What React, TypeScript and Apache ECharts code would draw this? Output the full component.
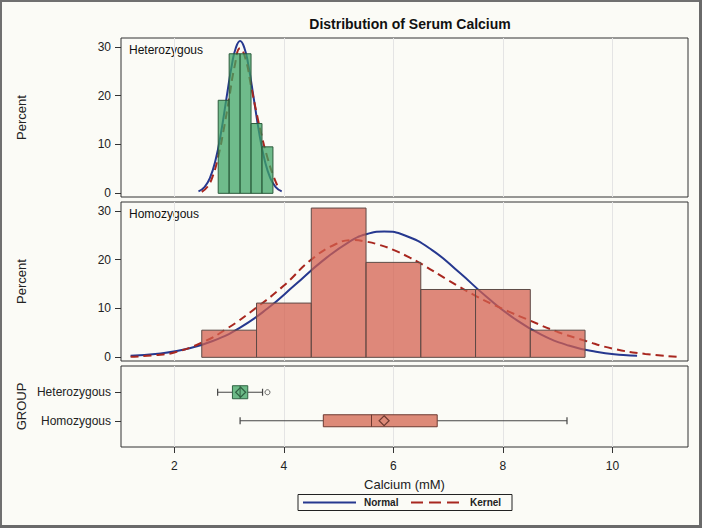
import React, { useEffect, useRef } from 'react';
import * as echarts from 'echarts';

const chartTitle = 'Distribution of Serum Calcium';
const xAxisName = 'Calcium (mM)';
const groups = ['Homozygous', 'Heterozygous'];
const xTicks = [2, 4, 6, 8, 10];
const yTicks = [0, 10, 20, 30];
const groupTicks = [0, 1];

// Heterozygous histogram (percent)
const hetBinStart = [2.8, 3.0, 3.2, 3.4, 3.6];
const hetBinEnd = [3.0, 3.2, 3.4, 3.6, 3.8];
const hetPct = [19.05, 28.57, 28.57, 14.29, 9.52];

// Homozygous histogram (percent)
const homBinStart = [2.5, 3.5, 4.5, 5.5, 6.5, 7.5, 8.5];
const homBinEnd = [3.5, 4.5, 5.5, 6.5, 7.5, 8.5, 9.5];
const homPct = [5.56, 11.11, 30.56, 19.44, 13.89, 13.89, 5.56];

// Heterozygous curves
const hetNormalX = [2.44, 2.55, 2.65, 2.75, 2.85, 2.95, 3.05, 3.12, 3.2, 3.28, 3.35, 3.45, 3.55, 3.65, 3.75, 3.85, 3.96];
const hetNormalY = [0.39, 1.27, 3.16, 6.74, 12.3, 19.4, 26.3, 29.7, 31.2, 29.7, 26.3, 19.4, 12.3, 6.74, 3.16, 1.27, 0.39];
const hetKernelX = [2.5, 2.6, 2.7, 2.8, 2.9, 3.0, 3.1, 3.2, 3.3, 3.4, 3.5, 3.6, 3.7, 3.8, 3.92];
const hetKernelY = [0.3, 1.3, 3.5, 7.5, 13.0, 19.5, 26.0, 29.7, 27.5, 22.0, 16.5, 11.5, 7.3, 3.8, 0.6];

// Homozygous curves
const homNormalX = [1.2, 1.7, 2.2, 2.7, 3.2, 3.7, 4.2, 4.7, 5.2, 5.5, 5.83, 6.2, 6.7, 7.2, 7.7, 8.2, 8.7, 9.2, 9.7, 10.2, 10.45];
const homNormalY = [0.3, 0.74, 1.66, 3.35, 6.1, 10.0, 14.8, 19.7, 23.7, 25.2, 25.74, 25.0, 22.0, 17.4, 12.4, 8.0, 4.64, 2.42, 1.14, 0.48, 0.3];
const homKernelX = [1.2, 1.7, 2.0, 2.5, 2.95, 3.5, 4.0, 4.5, 4.95, 5.26, 5.5, 5.75, 6.0, 6.3, 6.5, 7.0, 7.5, 8.0, 8.5, 9.0, 9.5, 10.0, 10.6, 11.2];
const homKernelY = [0.1, 0.5, 1.0, 3.0, 5.8, 10.2, 14.7, 20.0, 23.2, 24.0, 23.7, 23.0, 22.0, 20.4, 19.2, 15.8, 12.6, 9.9, 7.5, 5.2, 3.4, 1.8, 0.7, 0.1];

// Box plot stats per group
const boxGroup = [1, 0];
const boxLow = [2.79, 3.2];
const boxQ1 = [3.06, 4.72];
const boxMedian = [3.2, 5.6];
const boxQ3 = [3.34, 6.8];
const boxHigh = [3.61, 9.17];
const boxMean = [3.21, 5.83];
const outlierGroup = [1];
const outlierValue = [3.7];

const FONT = '"Liberation Sans", Arial, sans-serif';
const BG = '#fbfbf6';
const BLUE = '#26388f';
const RED = '#a8271f';

function pairs(xs: number[], ys: number[]) {
  return xs.map((x, i) => [x, ys[i]]);
}

export default function App() {
  const ref = useRef<HTMLDivElement>(null);
  useEffect(() => {
    if (!ref.current) return;
    const chart = echarts.init(ref.current, undefined, { renderer: 'svg' });

    const histRender = (fill: string, stroke: string) => (params: any, api: any) => {
      const a = api.coord([api.value(0), 0]);
      const b = api.coord([api.value(1), api.value(2)]);
      return {
        type: 'rect',
        shape: { x: a[0], y: b[1], width: b[0] - a[0], height: a[1] - b[1] },
        style: { fill, stroke, lineWidth: 1 },
      };
    };

    const xCommon = (gridIndex: number, showLabels: boolean) => ({
      type: 'value',
      gridIndex,
      min: 1.025,
      max: 11.38,
      name: showLabels ? xAxisName : '',
      nameLocation: 'middle',
      nameGap: 31,
      nameMoveOverlap: false,
      nameTextStyle: { fontSize: 13, color: '#222', fontFamily: FONT },
      axisLine: { show: false, onZero: false },
      axisTick: { show: showLabels, length: 6, customValues: xTicks, lineStyle: { color: '#333' } },
      axisLabel: { show: showLabels, customValues: xTicks, fontSize: 12, color: '#222', margin: 13, fontFamily: FONT },
      splitLine: { show: true, lineStyle: { color: '#e4e4e4', width: 1 } },
    });

    const yPct = (gridIndex: number) => ({
      type: 'value',
      gridIndex,
      min: -0.75,
      max: 31.8,
      name: 'Percent',
      nameLocation: 'middle',
      nameGap: 93,
      nameMoveOverlap: false,
      nameTextStyle: { fontSize: 13, color: '#222', fontFamily: FONT },
      axisLine: { show: false, onZero: false },
      axisTick: { show: true, length: 6, customValues: yTicks, lineStyle: { color: '#333' } },
      axisLabel: { customValues: yTicks, fontSize: 12, color: '#222', margin: 10, fontFamily: FONT },
      splitLine: { show: false },
    });

    const option: any = {
      animation: false,
      backgroundColor: BG,
      textStyle: { fontFamily: FONT },
      title: {
        text: chartTitle,
        left: 405,
        top: 12,
        textAlign: 'center',
        textStyle: { fontSize: 14, fontWeight: 'bold', color: '#111', fontFamily: FONT },
      },
      grid: [
        { left: 121, right: 14, top: 38, height: 159, show: true, borderColor: '#333', borderWidth: 1, backgroundColor: 'transparent' },
        { left: 121, right: 14, top: 202, height: 159, show: true, borderColor: '#333', borderWidth: 1, backgroundColor: 'transparent' },
        { left: 121, right: 14, top: 366, height: 81, show: true, borderColor: '#333', borderWidth: 1, backgroundColor: 'transparent' },
      ],
      xAxis: [xCommon(0, false), xCommon(1, false), xCommon(2, true)],
      yAxis: [
        yPct(0),
        yPct(1),
        {
          type: 'value',
          gridIndex: 2,
          min: -0.92,
          max: 1.92,
          name: 'GROUP',
          nameLocation: 'middle',
          nameGap: 93,
          nameMoveOverlap: false,
          nameTextStyle: { fontSize: 13, color: '#222', fontFamily: FONT },
          axisLine: { show: false, onZero: false },
          axisTick: { show: true, length: 6, customValues: groupTicks, lineStyle: { color: '#333' } },
          axisLabel: {
            customValues: groupTicks,
            fontSize: 12,
            color: '#222',
            margin: 10,
            fontFamily: FONT,
            formatter: (v: number) => groups[Math.round(v)] ?? '',
          },
          splitLine: { show: false },
        },
      ],
      series: [
        {
          type: 'line', xAxisIndex: 0, yAxisIndex: 0, data: pairs(hetNormalX, hetNormalY),
          smooth: true, showSymbol: false, z: 2,
          lineStyle: { color: BLUE, width: 2 },
        },
        {
          type: 'line', xAxisIndex: 0, yAxisIndex: 0, data: pairs(hetKernelX, hetKernelY),
          smooth: true, showSymbol: false, z: 2,
          lineStyle: { color: RED, width: 2, type: [8, 5] },
        },
        {
          type: 'custom', xAxisIndex: 0, yAxisIndex: 0, z: 3,
          data: hetBinStart.map((s, i) => [s, hetBinEnd[i], hetPct[i]]),
          encode: { x: [0, 1], y: 2 },
          renderItem: histRender('rgba(62,164,101,0.74)', '#2c5a3c'),
        },
        {
          type: 'line', xAxisIndex: 1, yAxisIndex: 1, data: pairs(homNormalX, homNormalY),
          smooth: true, showSymbol: false, z: 2,
          lineStyle: { color: BLUE, width: 2 },
        },
        {
          type: 'line', xAxisIndex: 1, yAxisIndex: 1, data: pairs(homKernelX, homKernelY),
          smooth: true, showSymbol: false, z: 2,
          lineStyle: { color: RED, width: 2, type: [8, 5] },
        },
        {
          type: 'custom', xAxisIndex: 1, yAxisIndex: 1, z: 3,
          data: homBinStart.map((s, i) => [s, homBinEnd[i], homPct[i]]),
          encode: { x: [0, 1], y: 2 },
          renderItem: histRender('rgba(212,96,78,0.74)', '#5e4a46'),
        },
        {
          type: 'custom', xAxisIndex: 2, yAxisIndex: 2, z: 3,
          data: boxGroup.map((g, i) => [g, boxLow[i], boxQ1[i], boxMedian[i], boxQ3[i], boxHigh[i], boxMean[i]]),
          encode: { x: [1, 2, 3, 4, 5, 6], y: 0 },
          renderItem: (params: any, api: any) => {
            const g = api.value(0);
            const pLo = api.coord([api.value(1), g]);
            const pQ1 = api.coord([api.value(2), g]);
            const pMed = api.coord([api.value(3), g]);
            const pQ3 = api.coord([api.value(4), g]);
            const pHi = api.coord([api.value(5), g]);
            const pMean = api.coord([api.value(6), g]);
            const het = g === 1;
            const fill = het ? '#6cba87' : '#dd8a78';
            const stroke = het ? '#2f6242' : '#6e3a31';
            const h = het ? 13 : 12;
            const y = pQ1[1];
            const wc = '#444';
            const d = 5;
            return {
              type: 'group',
              children: [
                { type: 'line', shape: { x1: pLo[0], y1: y, x2: pQ1[0], y2: y }, style: { stroke: wc, lineWidth: 1 } },
                { type: 'line', shape: { x1: pQ3[0], y1: y, x2: pHi[0], y2: y }, style: { stroke: wc, lineWidth: 1 } },
                { type: 'line', shape: { x1: pLo[0], y1: y - 3.5, x2: pLo[0], y2: y + 3.5 }, style: { stroke: wc, lineWidth: 1.2 } },
                { type: 'line', shape: { x1: pHi[0], y1: y - 3.5, x2: pHi[0], y2: y + 3.5 }, style: { stroke: wc, lineWidth: 1.2 } },
                { type: 'rect', shape: { x: pQ1[0], y: y - h / 2, width: pQ3[0] - pQ1[0], height: h }, style: { fill, stroke, lineWidth: 1 } },
                { type: 'line', shape: { x1: pMed[0], y1: y - h / 2, x2: pMed[0], y2: y + h / 2 }, style: { stroke, lineWidth: 1 } },
                {
                  type: 'polygon',
                  shape: { points: [[pMean[0], y - d], [pMean[0] + d, y], [pMean[0], y + d], [pMean[0] - d, y]] },
                  style: { fill: 'none', stroke, lineWidth: 1.2 },
                },
              ],
            };
          },
        },
        {
          type: 'scatter', xAxisIndex: 2, yAxisIndex: 2, z: 4,
          data: outlierValue.map((v, i) => [v, outlierGroup[i]]),
          symbol: 'circle', symbolSize: 5,
          itemStyle: { color: BG, borderColor: '#444', borderWidth: 1 },
        },
      ],
      graphic: [
        { type: 'rect', shape: { x: 1, y: 1, width: 699, height: 525 }, style: { fill: 'none', stroke: '#707070', lineWidth: 2 }, silent: true },
        { type: 'line', shape: { x1: 0, y1: 526.5, x2: 702, y2: 526.5 }, style: { stroke: '#6a6a6a', lineWidth: 3 }, silent: true },
        { type: 'line', shape: { x1: 700.5, y1: 0, x2: 700.5, y2: 528 }, style: { stroke: '#6a6a6a', lineWidth: 3 }, silent: true },
        // legend
        { type: 'rect', shape: { x: 298, y: 494.5, width: 214, height: 16 }, style: { fill: 'none', stroke: '#222', lineWidth: 1 } },
        { type: 'line', shape: { x1: 303, y1: 502.5, x2: 356, y2: 502.5 }, style: { stroke: BLUE, lineWidth: 2 } },
        { type: 'text', x: 364, y: 502.5, style: { text: 'Normal', fontSize: 10, fontWeight: 'bold', fill: '#222', fontFamily: FONT, textVerticalAlign: 'middle', verticalAlign: 'middle' } },
        { type: 'line', shape: { x1: 411, y1: 502.5, x2: 460, y2: 502.5 }, style: { stroke: RED, lineWidth: 2, lineDash: [12, 6] } },
        { type: 'text', x: 470, y: 502.5, style: { text: 'Kernel', fontSize: 10, fontWeight: 'bold', fill: '#222', fontFamily: FONT, textVerticalAlign: 'middle', verticalAlign: 'middle' } },
        // panel labels
        { type: 'text', x: 129, y: 50, style: { text: 'Heterozygous', fontSize: 12, fill: '#111', fontFamily: FONT, verticalAlign: 'middle' } },
        { type: 'text', x: 129, y: 214, style: { text: 'Homozygous', fontSize: 12, fill: '#111', fontFamily: FONT, verticalAlign: 'middle' } },
      ],
    };

    chart.setOption(option);
    return () => chart.dispose();
  }, []);

  return <div ref={ref} style={{ position: 'fixed', left: 0, top: 0, width: 702, height: 528 }} />;
}
